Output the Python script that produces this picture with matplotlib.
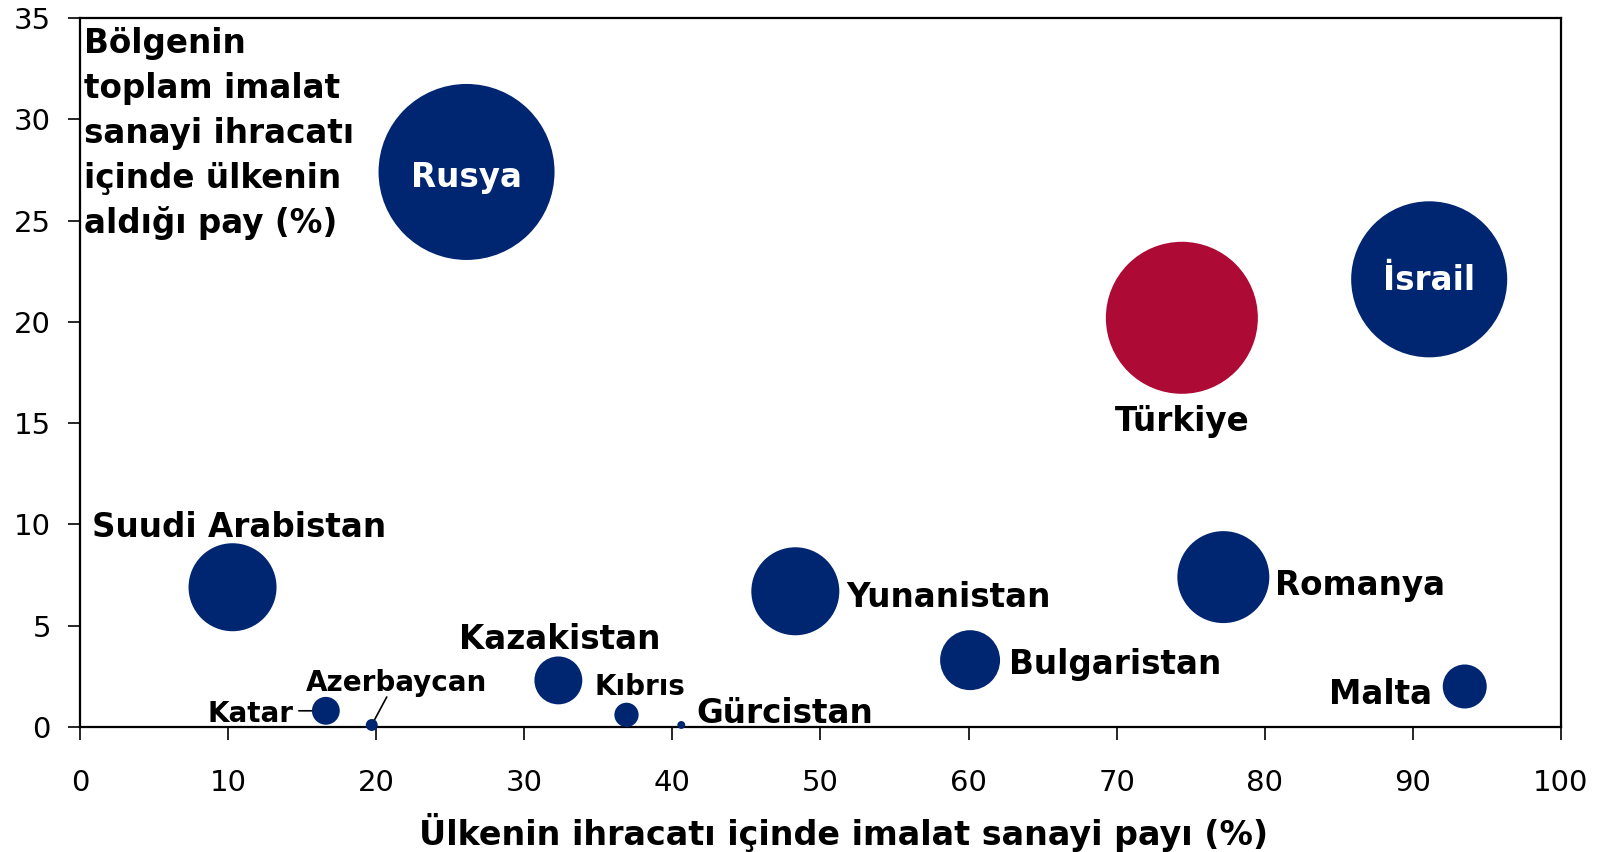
import matplotlib
matplotlib.use("Agg")
import matplotlib.pyplot as plt

plt.rcParams['font.family'] = ['DejaVu Sans']

# ---- data ----
countries = ["Rusya", "İsrail", "Türkiye", "Suudi Arabistan", "Yunanistan", "Romanya",
             "Bulgaristan", "Malta", "Kazakistan", "Kıbrıs", "Gürcistan", "Azerbaycan", "Katar"]
manuf_share_exports = [26.1, 91.1, 74.4, 10.3, 48.3, 77.2, 60.1, 93.5, 32.3, 36.9, 40.6, 19.7, 16.6]
share_region_manuf = [27.4, 22.1, 20.2, 6.9, 6.7, 7.4, 3.3, 2.0, 2.3, 0.6, 0.1, 0.1, 0.8]
bubble_value = [100, 78.6, 74.6, 25.0, 25.0, 27.3, 11.6, 6.25, 7.4, 1.9, 0.2, 0.46, 2.5]
is_turkey = [c == "Türkiye" for c in countries]

xticks = list(range(0, 101, 10))
yticks = list(range(0, 36, 5))
ylabel_lines = ["Bölgenin", "toplam imalat", "sanayi ihracatı", "içinde ülkenin", "aldığı pay (%)"]
xlabel = "Ülkenin ihracatı içinde imalat sanayi payı (%)"

# ---- style / layout ----
NAVY = "#002672"
RED = "#AD0B36"
PX = 0.72  # points per pixel at dpi 100
SIZE_SCALE = 160.6  # marker area (pt^2) per bubble value unit
VSHIFT = -3.5  # px, visual-centre correction for labels

# label placement: (dx_px, dy_px, ha, fontsize, color)
label_layout = {
    "Rusya": (0, -2, "center", 23.5, "white"),
    "İsrail": (0, 2, "center", 23.5, "white"),
    "Türkiye": (0, -100, "center", 23.5, "black"),
    "Suudi Arabistan": (7, 63, "center", 23.5, "black"),
    "Yunanistan": (51, -2.5, "left", 23.5, "black"),
    "Romanya": (51.5, -4.5, "left", 23.5, "black"),
    "Bulgaristan": (38.5, -1, "left", 23.5, "black"),
    "Malta": (-33, -4.5, "right", 23.5, "black"),
    "Kazakistan": (1, 44.5, "center", 23.5, "black"),
    "Kıbrıs": (13.5, 31.5, "center", 20, "black"),
    "Gürcistan": (15, 15, "left", 23.5, "black"),
    "Azerbaycan": (24.5, 45, "center", 20, "black"),
    "Katar": (-32, 0.5, "right", 20, "black"),
}
# leader lines: country -> (start offset px, shrink at bubble px)
leaders = {
    "Katar": ((-27, 0), 14),
    "Azerbaycan": ((15, 28), 0),
}

fig = plt.figure(figsize=(16.06, 8.52), dpi=100)
ax = fig.add_axes([80 / 1606, 1 - 727 / 852, (1561 - 80) / 1606, (727 - 18) / 852])

colors = [RED if t else NAVY for t in is_turkey]
sizes = [v * SIZE_SCALE for v in bubble_value]
ax.scatter(manuf_share_exports, share_region_manuf, s=sizes, c=colors,
           edgecolors="none", zorder=3, clip_on=False)

for c, x, y in zip(countries, manuf_share_exports, share_region_manuf):
    dx, dy, ha, fs, col = label_layout[c]
    ax.annotate(c, xy=(x, y), xytext=(dx * PX, (dy + VSHIFT) * PX), textcoords="offset points",
                ha=ha, va="center", fontsize=fs, fontweight="bold", color=col, zorder=5)
    if c in leaders:
        (lx, ly), shr = leaders[c]
        ax.annotate("", xy=(x, y), xytext=(lx * PX, ly * PX), textcoords="offset points",
                    arrowprops=dict(arrowstyle="-", color="black", lw=1.2,
                                    shrinkA=0, shrinkB=shr * PX), zorder=2)

ax.set_xlim(0, 100)
ax.set_ylim(0, 35)
ax.set_xticks(xticks)
ax.set_yticks(yticks)
ax.tick_params(axis="both", direction="out", length=9, width=1.2, labelsize=21, color="black")
ax.tick_params(axis="y", pad=12)
ax.tick_params(axis="x", pad=21)
for sp in ax.spines.values():
    sp.set_linewidth(1.6)
    sp.set_color("black")

ax.set_xlabel(xlabel, fontsize=24, fontweight="bold")
ax.xaxis.set_label_coords((844 - 80) / 1481, (727 - 832) / 709)
ax.xaxis.label.set_va("center")

baselines = [53, 98, 143, 188, 233]
for line, b in zip(ylabel_lines, baselines):
    ax.text((84 - 80) / 1481, (727 - b) / 709, line, transform=ax.transAxes,
            ha="left", va="baseline", fontsize=23.5, fontweight="bold", color="black", zorder=6)

fig.savefig("out.png", dpi=100)
